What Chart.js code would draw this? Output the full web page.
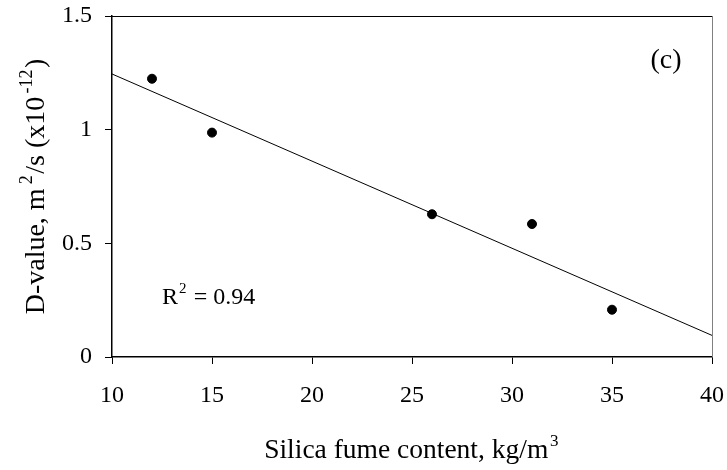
<!DOCTYPE html>
<html>
<head>
<meta charset="utf-8">
<script src="https://cdn.jsdelivr.net/npm/chart.js@4/dist/chart.umd.min.js"></script>
<style>
  html, body { margin: 0; padding: 0; background: #fff; }
  #wrap { width: 727px; height: 470px; }
</style>
</head>
<body>
<div id="wrap"><canvas id="chart" width="727" height="470"></canvas></div>
<script>
// silica fume content (kg/m3) vs measured D-value
const fumeContent = [12, 15, 26, 31, 35]
const dValue = [1.224, 0.987, 0.628, 0.585, 0.208]

// linear fit drawn across the whole x range
const fitX = [10, 40]
const fitY = [1.245, 0.095]

const xTicks = [10, 15, 20, 25, 30, 35, 40]
const yTicks = [0, 0.5, 1, 1.5]

const SERIF = "'Liberation Serif', 'Times New Roman', serif"

// text pieces, sup = raised and smaller, gap = space before it in em
const xTitle = [{ t: "Silica fume content, kg/m" }, { t: "3", sup: true, gap: 0.06 }]
const yTitle = [{ t: "D-value, m" }, { t: "2", sup: true, gap: 0.15 }, { t: "/s (x10" }, { t: "-12", sup: true, gap: 0.12 }, { t: ")" }]
const r2Label = [{ t: "R" }, { t: "2", sup: true, gap: 0.04 }, { t: " = 0.94" }]
const panelLabel = [{ t: "(c)" }]

function fontFor(p, size) {
  return `${p.sup ? Math.round(size * 0.63) : size}px ${SERIF}`
}

function partWidth(ctx, p, size) {
  ctx.font = fontFor(p, size)
  const w = ctx.measureText(p.t).width
  return p.sup ? w + (p.gap + 0.05) * size : w
}

function richWidth(ctx, parts, size) {
  return parts.reduce((w, p) => w + partWidth(ctx, p, size), 0)
}

// draws parts with alphabetic baseline at y, x is start or centre
function drawRich(ctx, parts, x, y, size, centered) {
  let cx = centered ? x - richWidth(ctx, parts, size) / 2 : x
  ctx.textBaseline = "alphabetic"
  ctx.textAlign = "left"
  ctx.fillStyle = "#000"
  parts.forEach((p) => {
    const adv = partWidth(ctx, p, size)
    ctx.font = fontFor(p, size)
    if (p.sup) ctx.fillText(p.t, cx + p.gap * size, y - size * 0.42)
    else ctx.fillText(p.t, cx, y)
    cx += adv
  })
}

const framePlugin = {
  id: "frame",
  afterDraw(chart) {
    const { ctx, chartArea: a, scales } = chart
    ctx.save()
    // top and right edges of the plot box
    ctx.lineWidth = 1
    ctx.strokeStyle = "#000"
    ctx.beginPath()
    ctx.moveTo(a.left, a.top + 0.5)
    ctx.lineTo(a.right, a.top + 0.5)
    ctx.stroke()
    ctx.strokeStyle = "#808080"
    ctx.beginPath()
    ctx.moveTo(a.right + 0.5, a.top)
    ctx.lineTo(a.right + 0.5, a.bottom)
    ctx.stroke()

    // axis titles
    drawRich(ctx, xTitle, (a.left + a.right) / 2, chart.height - 12, 27.5, true)
    ctx.translate(44, (a.top + a.bottom) / 2)
    ctx.rotate(-Math.PI / 2)
    drawRich(ctx, yTitle, 0, 0, 28, true)
    ctx.setTransform(1, 0, 0, 1, 0, 0)

    // in-plot labels
    drawRich(ctx, panelLabel, scales.x.getPixelForValue(37.7), scales.y.getPixelForValue(1.27), 28, true)
    drawRich(ctx, r2Label, scales.x.getPixelForValue(12.5), scales.y.getPixelForValue(0.235), 24, false)
    ctx.restore()
  },
}

const ctx = document.getElementById("chart").getContext("2d")

new Chart(ctx, {
  type: "scatter",
  data: {
    datasets: [
      {
        label: "D-value",
        data: fumeContent.map((x, i) => ({ x, y: dValue[i] })),
        backgroundColor: "#000",
        borderColor: "#000",
        pointRadius: 4.5,
        pointHoverRadius: 4.5,
      },
      {
        label: "Linear fit",
        type: "line",
        data: fitX.map((x, i) => ({ x, y: fitY[i] })),
        borderColor: "#000",
        borderWidth: 1,
        pointRadius: 0,
        fill: false,
      },
    ],
  },
  options: {
    responsive: false,
    animation: false,
    devicePixelRatio: 1,
    layout: { padding: { top: 16, right: 15, left: 0, bottom: 0 } },
    plugins: {
      legend: { display: false },
      tooltip: { enabled: false },
    },
    scales: {
      x: {
        type: "linear",
        min: 10,
        max: 40,
        afterBuildTicks: (scale) => {
          scale.ticks = xTicks.map((v) => ({ value: v }))
        },
        afterFit: (scale) => {
          scale.height = 113
          scale.paddingLeft = 0
          scale.paddingRight = 0
        },
        border: { color: "#000", width: 1.5 },
        grid: { drawOnChartArea: false, color: "#000", tickLength: 7, tickWidth: 1 },
        ticks: {
          color: "#000",
          font: { family: SERIF, size: 24 },
          padding: 17,
          maxRotation: 0,
          callback: (v) => String(v),
        },
      },
      y: {
        type: "linear",
        min: 0,
        max: 1.5,
        afterBuildTicks: (scale) => {
          scale.ticks = yTicks.map((v) => ({ value: v }))
        },
        afterFit: (scale) => {
          scale.width = 112
          scale.paddingTop = 0
          scale.paddingBottom = 0
        },
        border: { color: "#000", width: 1.5 },
        grid: { drawOnChartArea: false, color: "#000", tickLength: 7, tickWidth: 1 },
        ticks: {
          color: "#000",
          font: { family: SERIF, size: 24 },
          padding: 13,
          callback: (v) => String(v),
        },
      },
    },
  },
  plugins: [framePlugin],
})
</script>
</body>
</html>
